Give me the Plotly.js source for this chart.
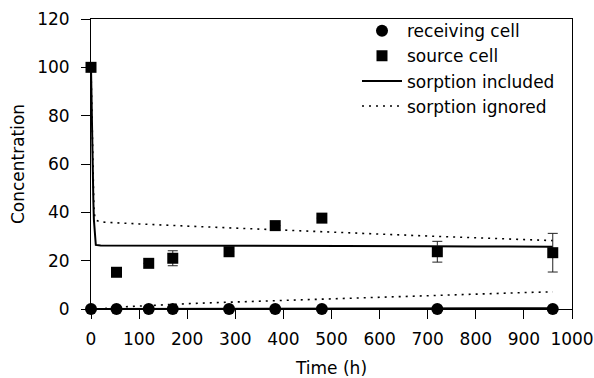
<!DOCTYPE html>
<html><head><meta charset="utf-8">
<script src="https://cdn.plot.ly/plotly-3.0.1.min.js"></script>
<style>html,body{margin:0;padding:0;background:#fff}#chart{width:594px;height:378px}</style>
</head><body><div id="chart"></div>
<script>
// measured data
const sampleTimes = [0, 53, 120, 170, 287, 383, 480, 720, 960];
const sourceCell = [100, 15.2, 18.9, 21.0, 23.7, 34.5, 37.6, 23.7, 23.3];
const sourceErr = [0, 1.5, 0, 3.1, 0, 0, 0, 4.3, 8.0];
const receivingCell = [0, 0, 0, 0, 0, 0, 0, 0, 0];

const modelTimes = [0, 1, 2, 3, 4, 5, 6, 8, 10, 20, 50, 100, 200, 300, 400, 500, 600, 700, 800, 900, 960];
const includedSource = [100, 85, 72, 62, 52, 44, 37, 30, 26.5, 26.3, 26.3, 26.3, 26.2, 26.2, 26.1, 26.1, 26.0, 26.0, 25.9, 25.9, 25.8];
const includedReceiving = [0, 0, 0, 0, 0, 0, 0, 0, 0, 0, 0, 0.05, 0.1, 0.1, 0.15, 0.2, 0.2, 0.25, 0.25, 0.3, 0.3];
const ignoredSource = [100, 88, 76, 66, 56, 48, 42, 38, 36.8, 36.0, 35.8, 35.2, 34.3, 33.4, 32.6, 31.8, 31.0, 30.2, 29.5, 28.8, 28.3];
const ignoredReceiving = [0, 0, 0, 0, 0, 0, 0, 0, 0, 0, 0.7, 1.3, 2.2, 2.9, 3.6, 4.3, 5.0, 5.6, 6.2, 6.8, 7.1];

const xTicks = [0, 100, 200, 300, 400, 500, 600, 700, 800, 900, 1000];
const yTicks = [0, 20, 40, 60, 80, 100, 120];

const dotDash = '2px,5px';
const traces = [
  {x: modelTimes, y: ignoredSource, mode: 'lines', name: 'sorption ignored', legendgroup: 'ign', legendrank: 4,
   line: {color: '#000', width: 1.6, dash: dotDash}},
  {x: modelTimes, y: ignoredReceiving, mode: 'lines', name: 'sorption ignored', legendgroup: 'ign', showlegend: false,
   line: {color: '#000', width: 1.6, dash: dotDash}},
  {x: modelTimes, y: includedSource, mode: 'lines', name: 'sorption included', legendgroup: 'inc', legendrank: 3,
   line: {color: '#000', width: 2}},
  {x: modelTimes, y: includedReceiving, mode: 'lines', name: 'sorption included', legendgroup: 'inc', showlegend: false,
   line: {color: '#000', width: 2}},
  {x: sampleTimes, y: receivingCell, mode: 'markers', name: 'receiving cell', legendrank: 1, cliponaxis: false,
   marker: {symbol: 'circle', size: 12, color: '#000'}},
  {x: sampleTimes, y: sourceCell, mode: 'markers', name: 'source cell', legendrank: 2, cliponaxis: false,
   marker: {symbol: 'square', size: 11, color: '#000'},
   error_y: {type: 'data', array: sourceErr, visible: true, color: '#222', thickness: 1, width: 5}}
];

const font = {family: 'DejaVu Sans, Liberation Sans, Arial, sans-serif', color: '#000', size: 17};
const layout = {
  width: 594, height: 378,
  margin: {l: 91, r: 22, t: 19, b: 69},
  paper_bgcolor: '#fff', plot_bgcolor: '#fff',
  font: font,
  showlegend: true,
  legend: {x: 0.553, xanchor: 'left', y: 1.02, yanchor: 'top', bgcolor: 'rgba(0,0,0,0)',
           font: {family: font.family, size: 17, color: '#000'}, itemwidth: 40, tracegroupgap: 0},
  xaxis: {range: [0, 1000], tickvals: xTicks, ticktext: xTicks.map(String), showgrid: false, zeroline: false,
          showline: true, linecolor: '#000', linewidth: 1, mirror: true, ticks: 'outside', ticklen: 9,
          tickcolor: '#000', tickwidth: 1, ticklabelstandoff: 6,
          title: {text: 'Time (h)', font: {size: 17}, standoff: 17}},
  yaxis: {range: [0, 120], tickvals: yTicks, ticktext: yTicks.map(String), showgrid: false, zeroline: false,
          showline: true, linecolor: '#000', linewidth: 1, mirror: true, ticks: 'outside', ticklen: 9,
          tickcolor: '#000', tickwidth: 1, ticklabelstandoff: 8,
          title: {text: 'Concentration', font: {size: 17}, standoff: 8}},
};
Plotly.newPlot('chart', traces, layout, {displayModeBar: false, staticPlot: true});
</script></body></html>
